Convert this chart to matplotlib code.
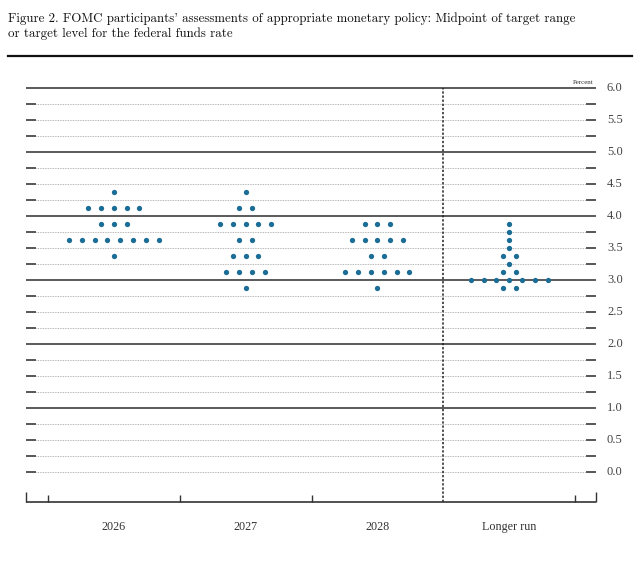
import matplotlib
matplotlib.use("Agg")
import matplotlib.pyplot as plt
from matplotlib.lines import Line2D
import numpy as np

# ---- data ----
groups = ["2026", "2027", "2028", "Longer run"]
rates_2026 = [4.375, 4.125, 3.875, 3.625, 3.375]
counts_2026 = [1, 5, 3, 8, 1]
rates_2027 = [4.375, 4.125, 3.875, 3.625, 3.375, 3.125, 2.875]
counts_2027 = [1, 2, 5, 2, 3, 4, 1]
rates_2028 = [3.875, 3.625, 3.375, 3.125, 2.875]
counts_2028 = [3, 5, 2, 6, 1]
rates_lr = [3.875, 3.75, 3.625, 3.5, 3.375, 3.25, 3.125, 3.0, 2.875]
counts_lr = [1, 1, 1, 1, 2, 1, 2, 7, 2]
ytick_values = [0.0, 0.5, 1.0, 1.5, 2.0, 2.5, 3.0, 3.5, 4.0, 4.5, 5.0, 5.5, 6.0]

title = ("Figure 2. FOMC participants' assessments of appropriate monetary policy: Midpoint of target range\n"
         "or target level for the federal funds rate")

W, H = 640, 577
fig = plt.figure(figsize=(W / 100, H / 100), dpi=100)
fig.patch.set_facecolor("white")

# axes placement in pixel terms
left_px, right_px, top_px, bot_px = 26, 596, 88, 502
ax = fig.add_axes([left_px / W, 1 - bot_px / H, (right_px - left_px) / W, (bot_px - top_px) / H])
ax.set_axis_off()

px_x = 131.75  # pixels per x unit
x0 = 0.5 + (left_px - 48) / px_x
x1 = 0.5 + (right_px - 48) / px_x
ymin = -(bot_px - 472) / 64.0
ymax = 6.0
ax.set_xlim(x0, x1)
ax.set_ylim(ymin, ymax)
py = (ymax - ymin) / (bot_px - top_px)  # data per pixel (y)

dash_len = 10 / px_x

# gridlines
for k in range(0, 25):
    v = k * 0.25
    if k % 4 == 0 and v > 0:
        ax.hlines(v, x0, x1, color="#4d4d4d", lw=1.3, clip_on=False, zorder=1)
    else:
        ax.hlines(v, x0 + dash_len, x1 - dash_len, color="#a0a0a0", lw=0.6,
                  linestyles=[(0, (1.0, 1.0))], clip_on=False, zorder=1)
        ax.hlines(v, x0, x0 + dash_len, color="#3a3a3a", lw=1.2, clip_on=False, zorder=1)
        ax.hlines(v, x1 - dash_len, x1, color="#3a3a3a", lw=1.2, clip_on=False, zorder=1)

# vertical dotted separator
ax.vlines(3.5, ymin, ymax, color="#222222", lw=1.1, linestyles=[(0, (1.5, 1.2))],
          clip_on=False, zorder=2)

# baseline and ticks
ax.hlines(ymin, x0, x1, color="#333333", lw=1.2, clip_on=False, zorder=2)
for xe in [x0, x1]:
    ax.vlines(xe, ymin, ymin + 10 * py, color="#333333", lw=1.0, clip_on=False)
for xt in [0.5, 1.5, 2.5, 4.5]:
    ax.vlines(xt, ymin, ymin + 7 * py, color="#333333", lw=1.0, clip_on=False)

# dots
dot_w = 12.8 / px_x
all_rates = [rates_2026, rates_2027, rates_2028, rates_lr]
all_counts = [counts_2026, counts_2027, counts_2028, counts_lr]
for gi, (rs, cs) in enumerate(zip(all_rates, all_counts)):
    c = gi + 1
    xs, ys = [], []
    for r, n in zip(rs, cs):
        for i in range(n):
            xs.append(c + (i - (n - 1) / 2) * dot_w)
            ys.append(r)
    ax.plot(xs, ys, "o", ms=3.8, color="#1b6d96", mec="none", zorder=5, clip_on=False)

# y tick labels on right
for v in ytick_values:
    ax.text(x1 + 11 / px_x, v, f"{v:.1f}", ha="left", va="center",
            fontsize=9, family="Liberation Serif", color="#444444", clip_on=False)

ax.text(x1 - 2 / px_x, ymax + 3 * py, "Percent", ha="right", va="bottom",
        fontsize=5, family="Liberation Serif", color="#333333", clip_on=False)

# x labels
for gi, g in enumerate(groups):
    ax.text(gi + 1, ymin - 25 * py, g, ha="center", va="center",
            fontsize=8.7, family="Liberation Serif", color="#333333", clip_on=False)

# title
fig.text(8 / W, 1 - 12 / H, title, ha="left", va="top", fontsize=9.3,
         family=["cmr10", "DejaVu Serif"], color="#111111", linespacing=1.25)
fig.add_artist(Line2D([8 / W, 632 / W], [1 - 56 / H, 1 - 56 / H],
                      color="#111111", lw=1.6, transform=fig.transFigure))

fig.savefig("out.png", dpi=100, facecolor="white")
